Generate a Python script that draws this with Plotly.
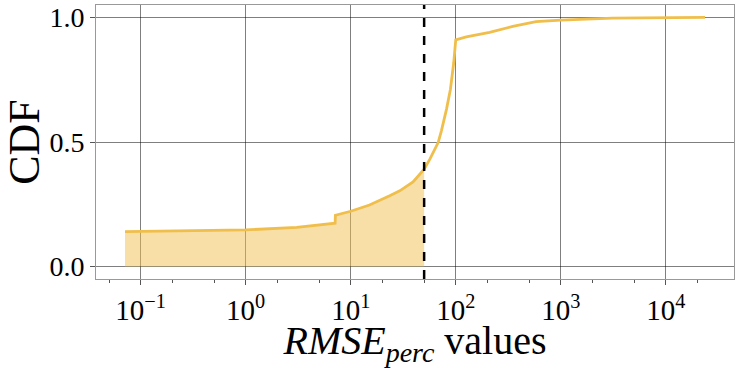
import plotly.graph_objects as go

rmse = [0.071, 1.0, 3.06, 7.1, 7.15, 10, 15.1, 18.9, 23.5, 29.3, 39.2, 50,
        56.7, 68, 73, 81.7, 89, 95.7, 100, 126, 210, 349, 582, 1000, 3100, 23600]
cdf = [0.140, 0.147, 0.157, 0.174, 0.206, 0.222, 0.247, 0.265, 0.284, 0.304, 0.34, 0.391,
       0.431, 0.498, 0.545, 0.632, 0.712, 0.819, 0.91, 0.922, 0.94, 0.964, 0.983, 0.989, 0.997, 1.0]
threshold = 50
x_tickvals = [0.1, 1, 10, 100, 1000, 10000]
x_ticktext = ["10<sup>\u22121</sup>", "10<sup>0</sup>", "10<sup>1</sup>", "10<sup>2</sup>",
              "10<sup>3</sup>", "10<sup>4</sup>"]
y_tickvals = [0.0, 0.5, 1.0]
y_ticktext = ["0.0", "0.5", "1.0"]

line_color = "rgb(240,190,75)"
fill_color = "rgba(240,192,80,0.5)"
font = "Liberation Serif"

fx = [x for x in rmse if x <= threshold]
fy = [y for x, y in zip(rmse, cdf) if x <= threshold]

fig = go.Figure()
fig.add_trace(go.Scatter(x=fx, y=fy, mode="lines", fill="tozeroy",
                         fillcolor=fill_color, line=dict(width=0), hoverinfo="skip",
                         showlegend=False))
fig.add_trace(go.Scatter(x=rmse, y=cdf, mode="lines",
                         line=dict(color=line_color, width=2.8), showlegend=False))
fig.add_shape(type="line", x0=threshold, x1=threshold, xref="x", y0=0, y1=1, yref="paper",
              line=dict(color="black", width=2.5, dash="dash"))

grid = "rgba(0,0,0,0.5)"
fig.update_layout(
    width=741, height=368,
    margin=dict(l=96, r=7, t=5, b=89),
    paper_bgcolor="white", plot_bgcolor="white",
    font=dict(family=font, color="black", size=28),
    xaxis=dict(type="log", range=[-1.425, 4.649], tickvals=x_tickvals, ticktext=x_ticktext,
               showgrid=True, gridcolor=grid, gridwidth=1, automargin=False,
               ticks="outside", ticklen=5, tickcolor="#555", tickwidth=1,
               minor=dict(ticks="outside", ticklen=3, tickcolor="#555", showgrid=False),
               showline=True, linecolor="#999", linewidth=1, mirror=True, zeroline=False,
               tickfont=dict(size=29, family=font),
               title=dict(text="<i>RMSE</i><sub><i>perc</i></sub> values",
                          font=dict(size=40, family=font), standoff=2)),
    yaxis=dict(range=[-0.05, 1.05], tickvals=y_tickvals, ticktext=y_ticktext,
               showgrid=True, gridcolor=grid, gridwidth=1, automargin=False,
               ticks="outside", ticklen=5, tickcolor="#555", tickwidth=1,
               showline=True, linecolor="#999", linewidth=1, mirror=True, zeroline=False,
               tickfont=dict(size=28, family=font),
               title=dict(text="CDF", font=dict(size=44, family=font), standoff=2)),
)
fig.write_html("out.html", config={"displayModeBar": False},
               post_script="document.body.style.margin='0';document.body.style.padding='0';")
